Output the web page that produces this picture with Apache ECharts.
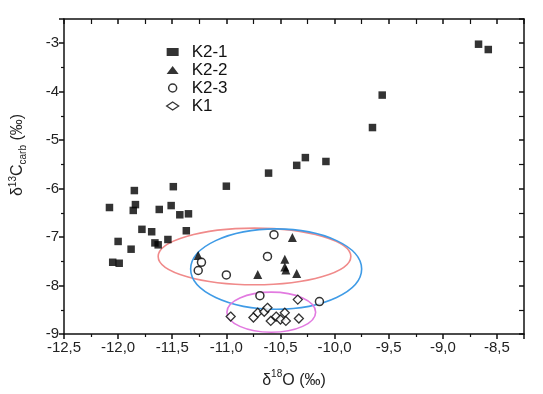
<!DOCTYPE html>
<html>
<head>
<meta charset="utf-8">
<script src="https://cdn.jsdelivr.net/npm/echarts@6/dist/echarts.min.js"></script>
<style>
  html, body { margin: 0; padding: 0; background: #fff; }
  #chart { width: 543px; height: 394px; }
</style>
</head>
<body>
<div id="chart"></div>
<script>
// 样品数据 [δ18O, δ13C]
var k21 = [
    [-8.67, -3.02], [-8.58, -3.13], [-9.56, -4.07], [-9.65, -4.74],
    [-10.61, -5.68], [-10.35, -5.52], [-10.27, -5.36], [-10.08, -5.44],
    [-11.0, -5.95], [-11.85, -6.04], [-11.49, -5.96], [-12.08, -6.39],
    [-11.84, -6.33], [-11.86, -6.45], [-11.62, -6.43], [-11.51, -6.35],
    [-11.43, -6.54], [-11.35, -6.52], [-11.78, -6.84], [-11.69, -6.89],
    [-11.37, -6.87], [-12.0, -7.09], [-11.66, -7.12], [-11.63, -7.16],
    [-11.54, -7.05], [-11.88, -7.25], [-12.05, -7.52], [-11.99, -7.54]
];
var k22 = [
    [-10.39, -7.01], [-11.26, -7.38], [-10.46, -7.46], [-10.46, -7.62],
    [-10.45, -7.68], [-10.71, -7.77], [-10.35, -7.75]
];
var k23 = [
    [-10.56, -6.95], [-10.62, -7.40], [-11.23, -7.52], [-11.26, -7.69],
    [-11.0, -7.78], [-10.69, -8.21], [-10.14, -8.33]
];
var k1 = [
    [-10.34, -8.29], [-10.96, -8.64], [-10.75, -8.66], [-10.71, -8.56],
    [-10.65, -8.54], [-10.62, -8.46], [-10.59, -8.73], [-10.54, -8.64],
    [-10.5, -8.70], [-10.46, -8.56], [-10.45, -8.73], [-10.33, -8.68]
];
// 椭圆 [中心x, 中心y, 半径x, 半径y]
var ellipses = [
    [-10.74, -7.40, 0.89, 0.585],
    [-10.54, -7.66, 0.79, 0.83],
    [-10.585, -8.55, 0.41, 0.414]
];
var ellipseColors = ['#f08a8a', '#3f9be6', '#e27ae0'];

var xTicks = ['-12,5', '-12,0', '-11,5', '-11,0', '-10,5', '-10,0', '-9,5', '-9,0', '-8,5'];

var myChart = echarts.init(document.getElementById('chart'));
var axisLine = { lineStyle: { color: '#111', width: 1.5 } };
var tickStyle = { color: '#111', width: 1.5 };
var option = {
    animation: false,
    textStyle: { fontFamily: 'Liberation Sans, Arial, sans-serif' },
    grid: { left: 64, right: 19, top: 19, bottom: 54 },
    legend: {
        orient: 'vertical',
        left: 166,
        top: 43,
        padding: 0,
        itemGap: 0,
        itemWidth: 12,
        itemHeight: 8,
        textStyle: { fontSize: 17, lineHeight: 18, color: '#111', padding: [0, 0, 0, 8] },
        data: [
            { name: 'K2-1', icon: 'rect', itemStyle: { color: '#000' } },
            { name: 'K2-2', icon: 'triangle', itemStyle: { color: '#000' } },
            { name: 'K2-3', icon: 'circle', itemStyle: { color: '#fff', borderColor: '#000', borderWidth: 1.5 } },
            { name: 'K1', icon: 'diamond', itemStyle: { color: '#fff', borderColor: '#000', borderWidth: 1.3 } }
        ]
    },
    graphic: [{
        type: 'text',
        x: 18,
        y: 155,
        rotation: Math.PI / 2,
        style: {
            text: '{a|δ}{s|13}{a|C}{b|carb}{a| (‰)}',
            align: 'center',
            verticalAlign: 'middle',
            rich: {
                a: { fontSize: 16, fill: '#222', lineHeight: 20, verticalAlign: 'middle', fontFamily: 'Liberation Sans' },
                s: { fontSize: 10, fill: '#222', lineHeight: 20, verticalAlign: 'top', fontFamily: 'Liberation Sans' },
                b: { fontSize: 10, fill: '#222', lineHeight: 20, verticalAlign: 'bottom', fontFamily: 'Liberation Sans' }
            }
        }
    }],
    xAxis: [
        {
            type: 'value', min: -12.5, max: -8.25, interval: 0.5,
            axisLine: axisLine,
            axisTick: { length: 5, lineStyle: tickStyle },
            minorTick: { show: true, splitNumber: 2, length: 3, lineStyle: { color: '#111', width: 1.2 } },
            splitLine: { show: false },
            axisLabel: {
                fontSize: 15, color: '#222', margin: 6,
                formatter: function (v) {
                    var i = Math.round((v + 12.5) / 0.5);
                    return xTicks[i] !== undefined ? xTicks[i] : '';
                }
            },
            name: '{a|δ}{s|18}{a|O (‰)}',
            nameLocation: 'middle',
            nameGap: 35,
            nameTextStyle: {
                rich: {
                    a: { fontSize: 16, color: '#222', lineHeight: 20, verticalAlign: 'bottom' },
                    s: { fontSize: 10, color: '#222', lineHeight: 20, verticalAlign: 'top' }
                }
            }
        },
        {
            type: 'value', position: 'top', min: -12.5, max: -8.25, interval: 0.5,
            axisLine: axisLine,
            axisTick: { inside: true, length: 5, lineStyle: tickStyle },
            minorTick: { show: true, splitNumber: 2, length: 5, lineStyle: { color: '#111', width: 1.2 } },
            splitLine: { show: false },
            axisLabel: { show: false }
        }
    ],
    yAxis: [
        {
            type: 'value', min: -9, max: -2.5, interval: 1,
            axisLine: axisLine,
            axisTick: { length: 5, lineStyle: tickStyle },
            minorTick: { show: true, splitNumber: 2, length: 3, lineStyle: { color: '#111', width: 1.2 } },
            splitLine: { show: false },
            axisLabel: { fontSize: 15, color: '#222', margin: 5, showMaxLabel: false }
        },
        {
            type: 'value', position: 'right', min: -9, max: -2.5, interval: 1,
            axisLine: axisLine,
            axisTick: { inside: true, length: 5, lineStyle: tickStyle },
            minorTick: { show: true, splitNumber: 2, length: 5, lineStyle: { color: '#111', width: 1.2 } },
            splitLine: { show: false },
            axisLabel: { show: false }
        }
    ],
    series: [
        {
            name: 'ellipses',
            type: 'custom',
            silent: true,
            data: ellipses,
            renderItem: function (params, api) {
                var c = api.coord([api.value(0), api.value(1)]);
                var s = api.size([api.value(2), api.value(3)]);
                return {
                    type: 'ellipse',
                    shape: { cx: c[0], cy: c[1], rx: s[0], ry: s[1] },
                    style: { fill: 'none', stroke: ellipseColors[params.dataIndex], lineWidth: 1.6 }
                };
            },
            z: 1
        },
        {
            name: 'K2-1', type: 'scatter', data: k21,
            symbol: 'rect', symbolSize: 7.5,
            itemStyle: { color: '#000' }, z: 3
        },
        {
            name: 'K2-2', type: 'scatter', data: k22,
            symbol: 'triangle', symbolSize: 9,
            itemStyle: { color: '#000' }, z: 3
        },
        {
            name: 'K2-3', type: 'scatter', data: k23,
            symbol: 'circle', symbolSize: 8,
            itemStyle: { color: '#fff', borderColor: '#000', borderWidth: 1.5 }, z: 3
        },
        {
            name: 'K1', type: 'scatter', data: k1,
            symbol: 'diamond', symbolSize: 9,
            itemStyle: { color: '#fff', borderColor: '#000', borderWidth: 1.3 }, z: 3
        }
    ]
};
myChart.setOption(option);
</script>
</body>
</html>
